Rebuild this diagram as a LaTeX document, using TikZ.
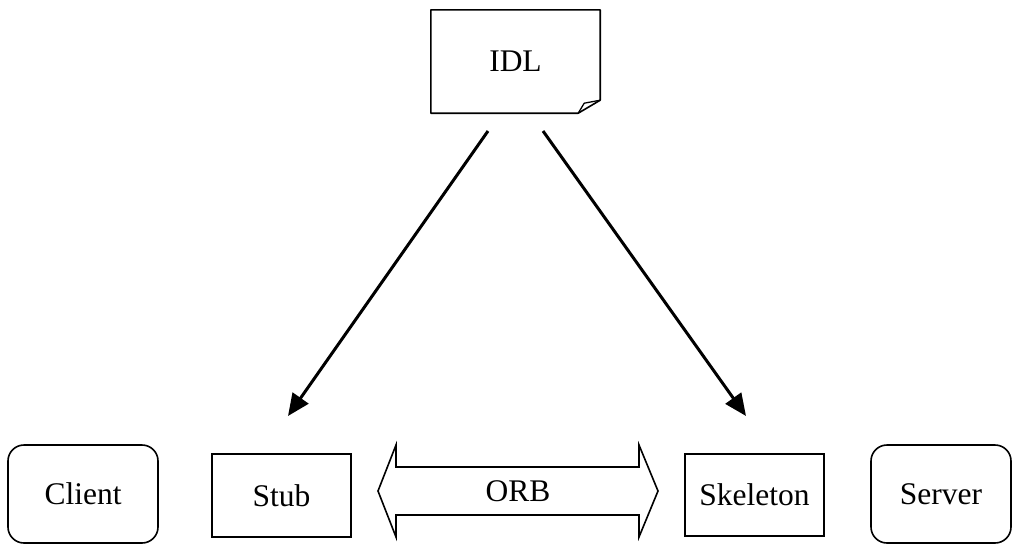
\documentclass[tikz,border=0pt]{standalone}
\usepackage{fontspec}
\setmainfont{Liberation Serif}
\usetikzlibrary{arrows.meta}
\begin{document}
\begin{tikzpicture}[x=1pt,y=-1pt,
  font=\fontsize{31.5}{37}\selectfont,
  box/.style={draw, line width=1.6pt, inner sep=0pt},
  actor/.style={box, rounded corners=16pt},
  flow/.style={line width=3pt, -{Triangle[length=22pt,width=19pt]}}]
\useasboundingbox (0,0) rectangle (1012,544);

% IDL document with a folded corner
\node[inner sep=0pt, minimum width=169pt, minimum height=103pt] (idl) at (515.5,61.5) {IDL};
\draw[line width=1.6pt, line join=round]
  (idl.north west) -- (idl.north east) -- ([yshift=13pt]idl.south east)
  -- ([xshift=-22pt]idl.south east) -- (idl.south west) -- cycle;
\draw[line width=1.3pt, line join=round]
  ([xshift=-22pt]idl.south east) -- ([xshift=-16pt,yshift=10pt]idl.south east)
  -- ([yshift=13pt]idl.south east);

% bottom row
\node[actor, minimum width=150pt, minimum height=98pt] (client) at (83,494) {Client};
\node[box, minimum width=139pt, minimum height=83pt] (stub) at (281.5,495.5) {Stub};
\node[box, minimum width=139pt, minimum height=82pt] (skel) at (754.5,495) {Skeleton};
\node[actor, minimum width=140pt, minimum height=98pt] (server) at (941,494) {Server};

% ORB as a two-headed block arrow
\node (orb) at (518,491) {ORB};
\draw[line width=1.6pt, line join=miter]
  (378,491) -- (396,445) -- (396,467) -- (639,467) -- (639,445) -- (658,491)
  -- (639,537) -- (639,515) -- (396,515) -- (396,537) -- cycle;

% generation arrows from the IDL
\coordinate (fromL) at (488,131);
\coordinate (toL) at (288,416);
\coordinate (fromR) at (543,131);
\coordinate (toR) at (746,416);
\draw[flow] (fromL) -- (toL);
\draw[flow] (fromR) -- (toR);
\end{tikzpicture}
\end{document}
